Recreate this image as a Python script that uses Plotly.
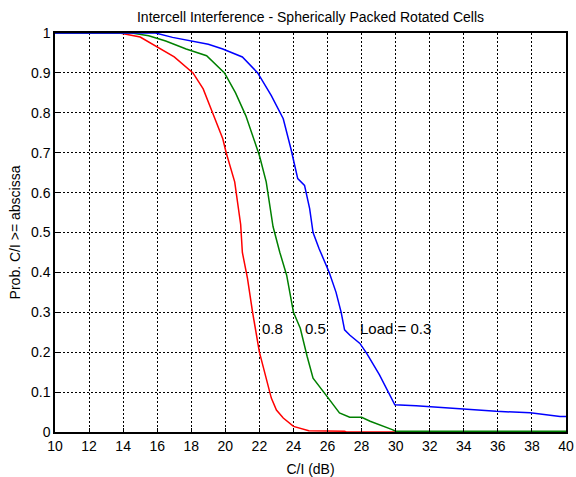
import plotly.graph_objects as go

# C/I (dB) values and probabilities for each load
red_x = [10, 13.8, 15, 15.9, 17, 18.1, 18.7, 19.25, 19.85, 20.05, 20.55, 20.9, 21.0, 21.3, 21.6, 22.0, 22.3, 22.7, 23.0, 23.4, 24.0, 24.9, 27.0, 27.1, 40]
red_y = [1, 1, 0.99, 0.968, 0.94, 0.9, 0.86, 0.80, 0.735, 0.70, 0.627, 0.52, 0.45, 0.385, 0.30, 0.20, 0.15, 0.085, 0.055, 0.035, 0.014, 0.003, 0.002, 0, 0]

green_x = [10, 14.5, 15.5, 16.5, 17.7, 18.9, 19.95, 20.6, 21.2, 21.6, 22.0, 22.4, 22.8, 23.2, 23.6, 24.0, 24.4, 24.8, 25.15, 25.9, 26.7, 27.3, 28.0, 28.5, 29.1, 29.8, 30.0, 40]
green_y = [1, 1, 0.993, 0.98, 0.96, 0.943, 0.90, 0.85, 0.793, 0.743, 0.693, 0.627, 0.515, 0.45, 0.393, 0.30, 0.26, 0.19, 0.135, 0.093, 0.048, 0.037, 0.037, 0.027, 0.018, 0.006, 0.002, 0.002]

blue_x = [10, 15.9, 16.9, 18.1, 19.0, 19.85, 21.0, 21.9, 22.7, 23.4, 23.85, 24.25, 24.65, 24.95, 25.15, 25.5, 26.1, 26.5, 26.8, 27.0, 27.3, 27.9, 28.3, 29.05, 29.65, 29.95, 31.2, 32.8, 33.8, 35.9, 37.9, 38.9, 39.65, 40]
blue_y = [1, 1, 0.989, 0.98, 0.972, 0.96, 0.94, 0.90, 0.843, 0.785, 0.71, 0.635, 0.618, 0.56, 0.50, 0.46, 0.40, 0.35, 0.30, 0.256, 0.243, 0.222, 0.197, 0.143, 0.093, 0.068, 0.066, 0.061, 0.057, 0.052, 0.048, 0.042, 0.039, 0.039]

x_ticks = list(range(10, 41, 2))
y_ticks = [0, 0.1, 0.2, 0.3, 0.4, 0.5, 0.6, 0.7, 0.8, 0.9, 1]
y_tick_labels = ["0", "0.1", "0.2", "0.3", "0.4", "0.5", "0.6", "0.7", "0.8", "0.9", "1"]

labels = ["0.8", "0.5", "Load = 0.3"]
label_x = [22.05, 24.55, 27.78]
label_y = [0.259, 0.259, 0.259]

FONT = "Liberation Sans, Arial, sans-serif"

fig = go.Figure()
for xs, ys, col in [(red_x, red_y, "#ff0000"), (green_x, green_y, "#008000"), (blue_x, blue_y, "#0000ff")]:
    fig.add_trace(go.Scatter(x=xs, y=ys, mode="lines", line=dict(color=col, width=1.5), showlegend=False))

for t, xx, yy in zip(labels, label_x, label_y):
    fig.add_annotation(x=xx, y=yy, text=t, showarrow=False, xanchor="left", yanchor="middle",
                       font=dict(family=FONT, size=15, color="black"))

axis_common = dict(showline=True, linecolor="black", linewidth=1.5, mirror=True,
                   showgrid=True, gridcolor="black", griddash="2px,2px", gridwidth=1,
                   ticks="inside", ticklen=4, tickcolor="black", zeroline=False, automargin=False,
                   tickfont=dict(family=FONT, size=14, color="black"))

fig.update_xaxes(range=[10, 40], tickvals=x_ticks,
                 title=dict(text="C/I (dB)", font=dict(family=FONT, size=14, color="black"), standoff=13), **axis_common)
fig.update_yaxes(range=[0, 1], tickvals=y_ticks, ticktext=y_tick_labels,
                 title=dict(text="Prob. C/I >= abscissa", font=dict(family=FONT, size=14, color="black"), standoff=7), **axis_common)

W, H = 576, 477
fig.update_layout(
    width=W, height=H,
    margin=dict(l=55, r=10, t=33, b=45, autoexpand=False),
    paper_bgcolor="white", plot_bgcolor="white",
    title=dict(text="Intercell Interference - Spherically Packed Rotated Cells", x=(55 + W - 10) / 2 / W, xanchor="center",
               y=1 - 17 / H, yanchor="middle", font=dict(family=FONT, size=14, color="black")),
)

# remove the default page margin so the figure sits at the window's top-left corner
fig.write_html("out.html", config={"displayModeBar": False},
               post_script="document.body.style.margin='0';document.body.style.overflow='hidden';")
